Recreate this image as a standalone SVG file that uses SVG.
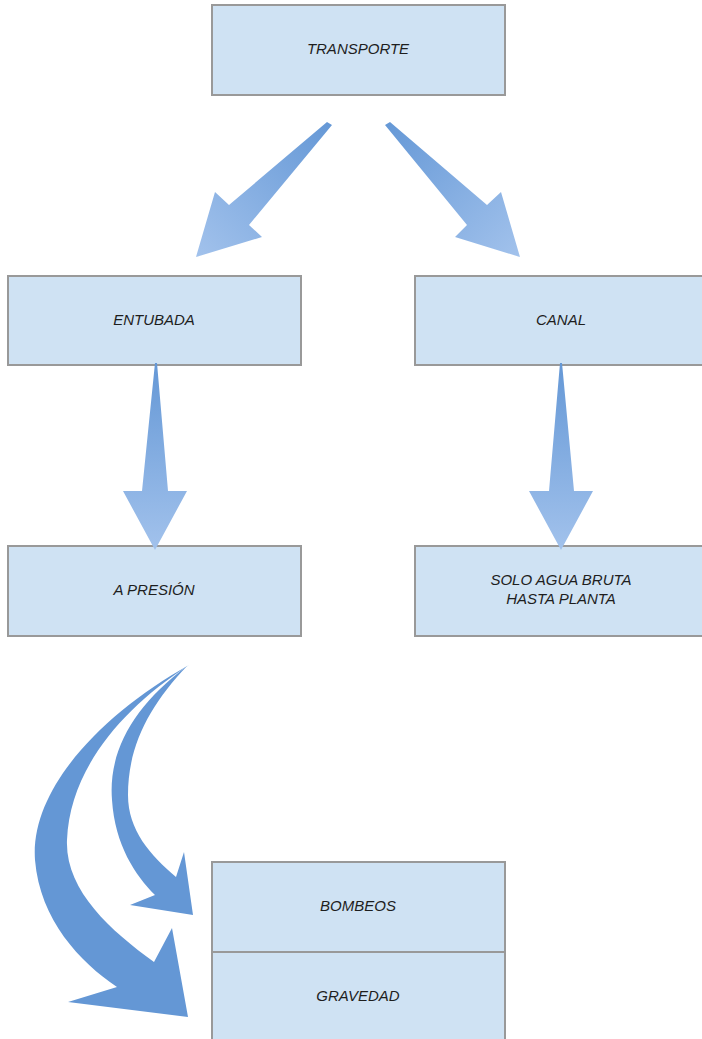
<svg xmlns="http://www.w3.org/2000/svg" width="702" height="1039" viewBox="0 0 702 1039">
<style>
.box{fill:#cfe2f3;stroke:#999999;stroke-width:2}
.lbl{font-family:"Liberation Sans",Arial,sans-serif;font-style:italic;font-size:15px;fill:#1e1e1e;text-anchor:middle}
.curve{fill:#6497d5}
</style>
<defs>
<linearGradient id="gDown" x1="0" y1="0" x2="0" y2="1">
<stop offset="0" stop-color="#6598d6"/>
<stop offset="1" stop-color="#a2c2ec"/>
</linearGradient>
<linearGradient id="gLeft" x1="1" y1="0" x2="0" y2="1">
<stop offset="0" stop-color="#6598d6"/>
<stop offset="1" stop-color="#a2c2ec"/>
</linearGradient>
<linearGradient id="gRight" x1="0" y1="0" x2="1" y2="1">
<stop offset="0" stop-color="#6598d6"/>
<stop offset="1" stop-color="#a2c2ec"/>
</linearGradient>
</defs>
<rect width="702" height="1039" fill="#ffffff"/>

<g id="transporte">
<rect class="box" x="212" y="5" width="293" height="90"/>
<text class="lbl" x="358" y="54">TRANSPORTE</text>
</g>
<g id="entubada">
<rect class="box" x="8" y="276" width="293" height="89"/>
<text class="lbl" x="154" y="325">ENTUBADA</text>
</g>
<g id="canal">
<rect class="box" x="415" y="276" width="294" height="89"/>
<text class="lbl" x="561" y="325">CANAL</text>
</g>
<g id="a-presion">
<rect class="box" x="8" y="546" width="293" height="90"/>
<text class="lbl" x="154" y="595">A PRESIÓN</text>
</g>
<g id="solo-agua-bruta">
<rect class="box" x="415" y="546" width="294" height="90"/>
<text class="lbl" x="561" y="585">SOLO AGUA BRUTA</text>
<text class="lbl" x="561" y="604">HASTA PLANTA</text>
</g>
<g id="bombeos">
<rect class="box" x="212" y="862" width="293" height="90"/>
<text class="lbl" x="358" y="911">BOMBEOS</text>
</g>
<g id="gravedad">
<rect class="box" x="212" y="952" width="293" height="95"/>
<text class="lbl" x="358" y="1001">GRAVEDAD</text>
</g>

<g id="connectors">
<path fill="url(#gLeft)" d="M327,122 L332,125 L249,225 L262,237 L196,257 L215,192 L229,205 Z"/>
<path fill="url(#gRight)" d="M390,122 L385,125 L467,225 L455,237 L520,257 L501,192 L487,205 Z"/>
<path fill="url(#gDown)" d="M155,363 L157,363 L168,491 L187,491 L155,550 L123,491 L142,491 Z"/>
<path fill="url(#gDown)" d="M560,363 L562,363 L574,491 L593,491 L561,550 L529,491 L549,491 Z"/>
<path class="curve" d="M189,665 C100,715 30,790 35,860 C40,920 80,962 117,987 L68,1002 L188,1017 L172,928 L154,962 C110,930 65,890 67,840 C70,770 120,710 189,665 Z"/>
<path class="curve" d="M187,666 C135,705 108,750 112,800 C115,845 135,875 155,895 L130,905 L193,915 L184,852 L176,877 C150,855 128,830 128,795 C128,745 150,705 187,666 Z"/>
</g>
</svg>
